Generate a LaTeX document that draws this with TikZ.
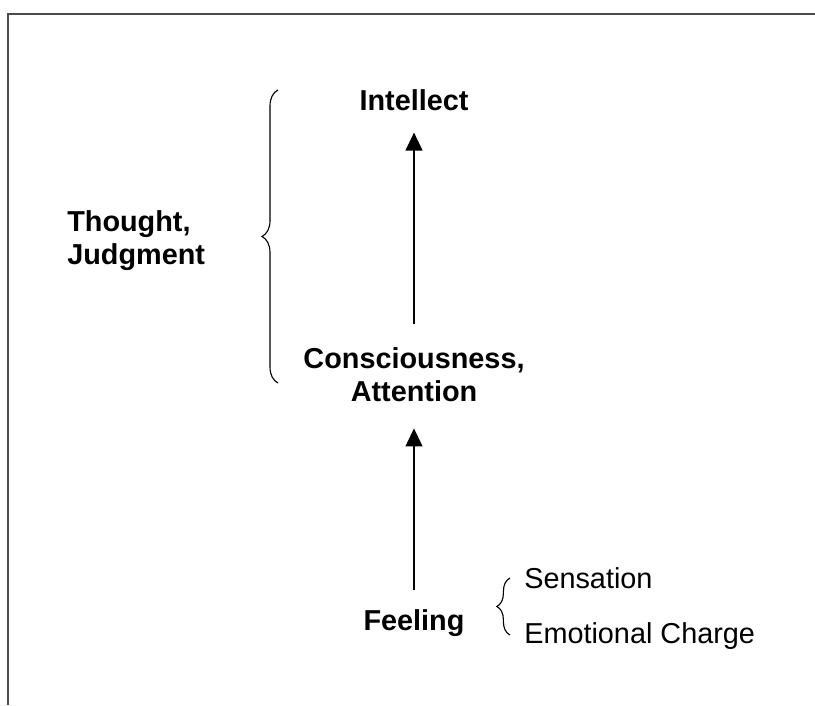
\documentclass[tikz,border=0pt]{standalone}
\usepackage{fontspec}
\setmainfont{Liberation Sans}
\usetikzlibrary{arrows.meta,decorations.pathreplacing,positioning}

\tikzset{
  stage/.style={font=\bfseries\fontsize{20.5}{23.5}\selectfont, align=center, inner sep=0pt},
  part/.style={font=\fontsize{20.5}{23.5}\selectfont, inner sep=0pt, anchor=base west},
  rise/.style={-{Triangle[length=0.45cm,width=0.42cm]}, line width=1.3pt},
  curly/.style={decorate, decoration={brace, amplitude=#1}, line width=0.8pt},
}

\begin{document}
\begin{tikzpicture}[x=0.025cm,y=-0.025cm]
    \useasboundingbox (0,0) rectangle (815,705);
    % frame
    \draw[gray!60!black, line width=1.3pt] (8,705) -- (8,14) -- (815,14);

    \node[stage, anchor=base] (intel) at (414,110) {Intellect};
    \node[stage] (cons) at (414,375) {Consciousness,\\Attention};
    \node[stage, anchor=base] (feel) at (414,630) {Feeling};
    \node[stage, align=left, anchor=west] (judge) at (67,241) {Thought,\\Judgment};

    \draw[rise, shorten <=0.48cm, shorten >=0.65cm] (feel.north) -- (cons.south);
    \draw[rise, shorten <=0.6cm, shorten >=0.55cm] (cons.north) -- (intel.south);

    \coordinate (bigtop) at (278,90);
    \coordinate (bigbot) at (278,383);
    \draw[curly=0.4cm] (bigbot) -- (bigtop);

    \node[part] (sens) at (524,588) {Sensation};
    \node[part] (emo) at (524,643) {Emotional Charge};
    \coordinate (smalltop) at (510,578);
    \coordinate (smallbot) at (510,635);
    \draw[curly=0.33cm] (smallbot) -- (smalltop);
  \end{tikzpicture}
\end{document}
